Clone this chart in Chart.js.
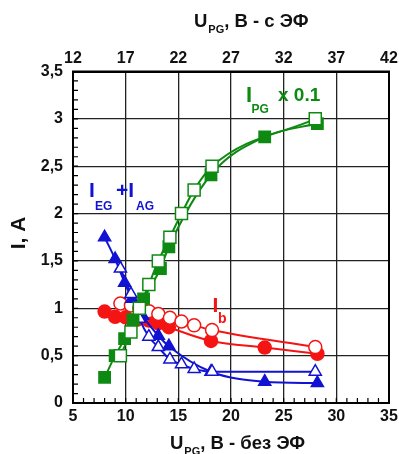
<!DOCTYPE html>
<html>
<head>
<meta charset="utf-8">
<script src="https://cdn.jsdelivr.net/npm/chart.js@4/dist/chart.umd.min.js"></script>
<style>
	html, body { margin: 0; padding: 0; background: #fff; }
</style>
</head>
<body>
<canvas id="chart" width="399" height="454"></canvas>
<script>
// tick labels
var bottomTicks = ['5', '10', '15', '20', '25', '30', '35'];
var topTicks = ['12', '17', '22', '27', '32', '37', '42'];
var yTicks = ['0', '0,5', '1', '1,5', '2', '2,5', '3', '3,5'];

// I_PG x 0.1
var pgFilledX = [8.0, 9.0, 9.9, 10.7, 11.7, 13.3, 14.1, 18.1, 23.2, 28.2];
var pgFilledY = [0.27, 0.5, 0.68, 0.88, 1.1, 1.42, 1.65, 2.41, 2.81, 2.95];
var pgOpenX = [9.5, 10.5, 11.3, 12.2, 13.1, 14.2, 15.3, 16.5, 18.2, 28.0];
var pgOpenY = [0.5, 0.75, 1.0, 1.25, 1.5, 1.75, 2.0, 2.25, 2.5, 3.0];

// I_b
var bFilledX = [8.0, 9.0, 10.0, 11.1, 12.2, 13.1, 14.1, 18.1, 23.2, 28.2];
var bFilledY = [0.965, 0.91, 0.905, 0.88, 0.87, 0.84, 0.8, 0.655, 0.585, 0.52];
var bOpenX = [9.5, 10.5, 11.3, 12.2, 13.1, 14.2, 15.3, 16.5, 18.2, 28.0];
var bOpenY = [1.05, 1.03, 1.0, 0.97, 0.94, 0.9, 0.86, 0.82, 0.77, 0.59];

// I_EG + I_AG
var egFilledX = [8.0, 9.0, 9.9, 10.6, 11.6, 13.1, 14.1, 18.1, 23.2, 28.2];
var egFilledY = [1.75, 1.52, 1.27, 1.1, 0.92, 0.71, 0.6, 0.33, 0.225, 0.21];
var egOpenX = [9.5, 10.5, 11.3, 12.2, 13.1, 14.2, 15.3, 16.5, 18.2, 28.0];
var egOpenY = [1.42, 1.15, 0.89, 0.7, 0.59, 0.46, 0.41, 0.36, 0.33, 0.33];

var GREEN = '#0e8a12';
var RED = '#f51414';
var BLUE = '#1212d2';
var FONT = '"Liberation Sans", Arial, sans-serif';

function pts(xs, ys) {
	return xs.map(function(x, i) { return { x: x, y: ys[i] }; });
}

function series(label, xs, ys, color, shape, radius, filled) {
	return {
		label: label,
		data: pts(xs, ys),
		showLine: true,
		cubicInterpolationMode: 'monotone',
		borderColor: color,
		borderWidth: 2,
		pointStyle: shape,
		pointRadius: radius,
		pointBackgroundColor: filled ? color : '#fff',
		pointBorderColor: color,
		pointBorderWidth: 1.5
	};
}

// frame, minor ticks and all texts with subscripts
var extras = {
	id: 'extras',
	afterDraw: function(chart) {
		var ctx = chart.ctx;
		var a = chart.chartArea;
		var sx = chart.scales.x;
		var sy = chart.scales.y;
		ctx.save();
		ctx.strokeStyle = '#000';
		ctx.lineWidth = 1.2;
		ctx.beginPath();
		for (var v = 0; v <= 3.5001; v += 0.1) {
			var py = sy.getPixelForValue(v);
			ctx.moveTo(a.left, py);
			ctx.lineTo(a.left + 5, py);
		}
		for (var u = 5; u <= 35; u += 1) {
			var px = sx.getPixelForValue(u);
			ctx.moveTo(px, a.bottom);
			ctx.lineTo(px, a.bottom - 5);
		}
		ctx.stroke();
		ctx.lineWidth = 2;
		ctx.strokeRect(a.left, a.top, a.right - a.left, a.bottom - a.top);

		function txt(s, x, y, size, color) {
			ctx.font = 'bold ' + size + 'px ' + FONT;
			ctx.fillStyle = color;
			ctx.textAlign = 'left';
			ctx.textBaseline = 'alphabetic';
			ctx.fillText(s, x, y);
			return x + ctx.measureText(s).width;
		}
		var e;
		// axis titles
		e = txt('U', 194, 27, 18.5, '#111');
		e = txt('PG', e + 1, 33, 11, '#111');
		txt(', B - с ЭФ', e, 27, 18.5, '#111');

		e = txt('U', 170, 449, 18.5, '#111');
		e = txt('PG', e + 1, 455, 11, '#111');
		txt(', B - без ЭФ', e, 449, 18.5, '#111');

		ctx.save();
		ctx.translate(25, 233);
		ctx.rotate(-Math.PI / 2);
		ctx.font = 'bold 21px ' + FONT;
		ctx.fillStyle = '#111';
		ctx.textAlign = 'center';
		ctx.fillText('I, A', 0, 0);
		ctx.restore();

		// curve labels
		txt('I', 246, 101.5, 22, GREEN);
		txt('PG', 251.5, 112.5, 12, GREEN);
		txt('x 0.1', 278, 101, 19, GREEN);

		txt('I', 89, 196.5, 21, BLUE);
		txt('EG', 95, 210, 12, BLUE);
		txt('+I', 116, 196.5, 21, BLUE);
		txt('AG', 136, 209.5, 12, BLUE);

		txt('I', 212.5, 311.5, 21, RED);
		txt('b', 218, 323, 14, RED);
		ctx.restore();
	}
};

var tickFont = { family: FONT, size: 16, weight: 'bold' };

function fitX(h) {
	return function(s) {
		s.height = h;
		s.paddingLeft = 0;
		s.paddingRight = 0;
	};
}

var chart = new Chart(document.getElementById('chart'), {
	type: 'scatter',
	data: {
		datasets: [
			series('IPG open', pgOpenX, pgOpenY, GREEN, 'rect', 8.5, false),
			series('IPG', pgFilledX, pgFilledY, GREEN, 'rect', 8, true),
			series('IEG+IAG open', egOpenX, egOpenY, BLUE, 'triangle', 7, false),
			series('IEG+IAG', egFilledX, egFilledY, BLUE, 'triangle', 7, true),
			series('Ib open', bOpenX, bOpenY, RED, 'circle', 6.5, false),
			series('Ib', bFilledX, bFilledY, RED, 'circle', 6.5, true)
		]
	},
	options: {
		responsive: false,
		devicePixelRatio: 1,
		animation: false,
		layout: { padding: { left: 0, right: 10, top: 0, bottom: 0 } },
		plugins: {
			legend: { display: false },
			tooltip: { enabled: false }
		},
		scales: {
			x: {
				type: 'linear',
				position: 'bottom',
				min: 5,
				max: 35,
				ticks: {
					stepSize: 5,
					padding: 4,
					color: '#111',
					font: tickFont,
					callback: function(v, i) { return bottomTicks[i]; }
				},
				grid: { color: '#222', lineWidth: 1.3, drawTicks: false },
				border: { display: true, color: '#000', width: 2 },
				afterFit: fitX(51)
			},
			x2: {
				type: 'linear',
				position: 'top',
				min: 12,
				max: 42,
				ticks: {
					stepSize: 5,
					padding: 3,
					color: '#111',
					font: tickFont,
					callback: function(v, i) { return topTicks[i]; }
				},
				grid: { display: false, drawTicks: false },
				border: { display: true, color: '#000', width: 2 },
				afterFit: fitX(71.5)
			},
			y: {
				type: 'linear',
				min: 0,
				max: 3.5,
				ticks: {
					stepSize: 0.5,
					padding: 10,
					color: '#111',
					font: tickFont,
					callback: function(v, i) { return yTicks[i]; }
				},
				grid: { color: '#222', lineWidth: 1.3, drawTicks: false },
				border: { display: true, color: '#000', width: 2 },
				afterFit: function(s) { s.width = 73; }
			}
		}
	},
	plugins: [extras]
});
</script>
</body>
</html>
